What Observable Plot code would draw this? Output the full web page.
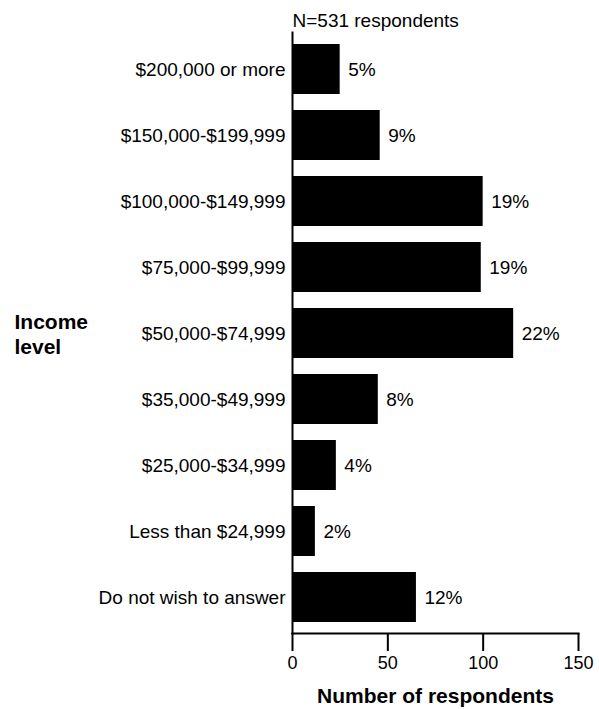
<!DOCTYPE html>
<html>
<head>
<meta charset="utf-8">
<script src="https://cdn.jsdelivr.net/npm/d3@7"></script>
<script src="https://cdn.jsdelivr.net/npm/@observablehq/plot@0.6"></script>
<style>
  body { margin: 0; background: #fff; }
  svg { font-family: "Liberation Sans", Arial, Helvetica, sans-serif; }
</style>
</head>
<body>
<div id="chart"></div>
<script>
const categories = [
  "$200,000 or more",
  "$150,000-$199,999",
  "$100,000-$149,999",
  "$75,000-$99,999",
  "$50,000-$74,999",
  "$35,000-$49,999",
  "$25,000-$34,999",
  "Less than $24,999",
  "Do not wish to answer"
];
const counts = [25, 46, 100, 99, 116, 45, 23, 12, 65];
const percents = ["5%", "9%", "19%", "19%", "22%", "8%", "4%", "2%", "12%"];
const xTicks = [0, 50, 100, 150];

const data = categories.map((c, i) => ({label: c, count: counts[i], pct: percents[i]}));

const chart = Plot.plot({
  width: 599,
  height: 709,
  marginLeft: 292,
  marginRight: 21,
  marginTop: 32,
  marginBottom: 76,
  style: {fontFamily: '"Liberation Sans", Arial, Helvetica, sans-serif', background: "#fff"},
  x: {domain: [0, 150]},
  y: {domain: categories, paddingInner: 0.25, paddingOuter: 0.12},
  marks: [
    Plot.barX(data, {x: "count", y: "label", fill: "black"}),
    Plot.text(data, {x: "count", y: "label", text: "pct", dx: 8, textAnchor: "start", fontSize: 19, fill: "black"}),
    Plot.frame({anchor: "left", stroke: "black", strokeWidth: 2}),
    Plot.frame({anchor: "bottom", stroke: "black", strokeWidth: 2}),
    Plot.axisX({ticks: xTicks, tickSize: 18, tickPadding: 5, fontSize: 18, label: null, strokeWidth: 2, tickFormat: d => String(d)}),
    Plot.axisY({tickSize: 0, tickPadding: 7, fontSize: 19, label: null}),
    Plot.text(["Number of respondents"], {frameAnchor: "bottom", dy: 69, lineAnchor: "bottom", fontSize: 21, fontWeight: "bold", fill: "black"}),
    Plot.text(["N=531 respondents"], {frameAnchor: "top-left", dy: -6, lineAnchor: "bottom", textAnchor: "start", fontSize: 19, fill: "black"}),
    Plot.text([{label: "$50,000-$74,999", t: "Income\nlevel"}], {y: "label", text: "t", frameAnchor: "left", dx: -278, textAnchor: "start", lineAnchor: "middle", lineHeight: 1.18, fontSize: 21, fontWeight: "bold", fill: "black"})
  ]
});
document.getElementById("chart").appendChild(chart);
</script>
</body>
</html>
